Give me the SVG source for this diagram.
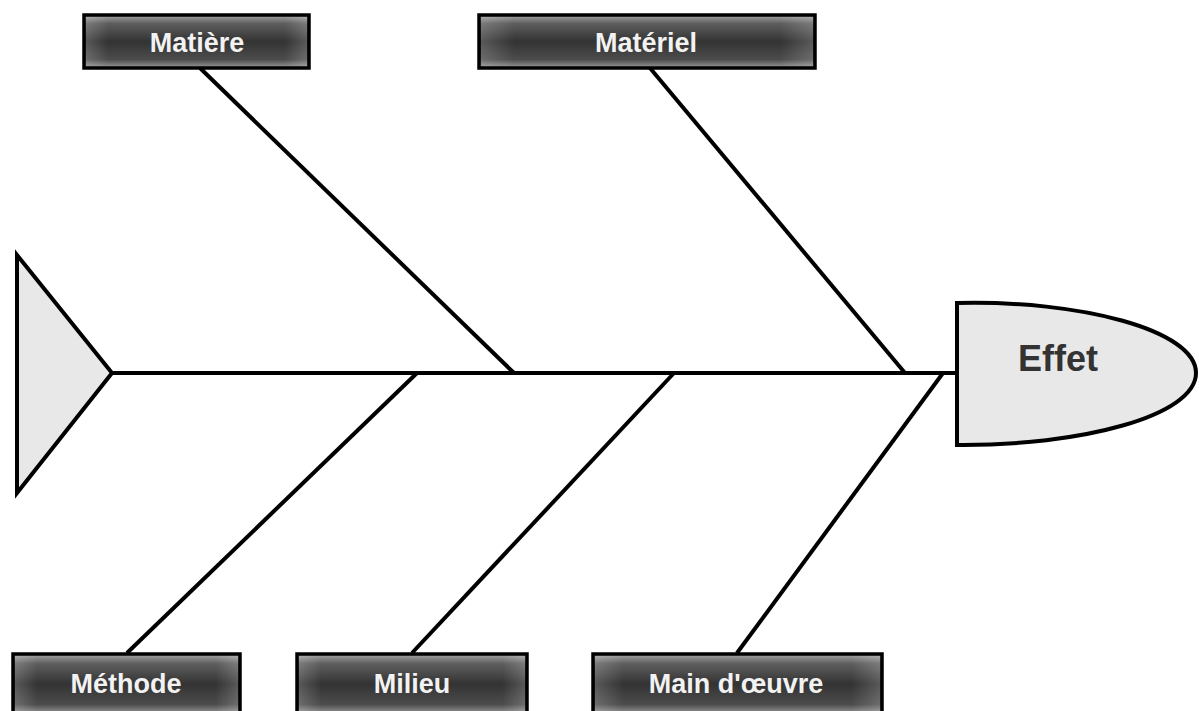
<svg xmlns="http://www.w3.org/2000/svg" width="1199" height="711" viewBox="0 0 1199 711">
<defs>
<linearGradient id="gv" x1="0" y1="0" x2="0" y2="1">
<stop offset="0" stop-color="#a8a8a8"/>
<stop offset="0.16" stop-color="#5e5e5e"/>
<stop offset="0.5" stop-color="#333333"/>
<stop offset="0.84" stop-color="#4c4c4c"/>
<stop offset="1" stop-color="#9a9a9a"/>
</linearGradient>
<linearGradient id="gh" x1="0" y1="0" x2="1" y2="0">
<stop offset="0" stop-color="#ffffff" stop-opacity="0.18"/>
<stop offset="0.1" stop-color="#ffffff" stop-opacity="0"/>
<stop offset="0.9" stop-color="#ffffff" stop-opacity="0"/>
<stop offset="1" stop-color="#ffffff" stop-opacity="0.18"/>
</linearGradient>
</defs>
<style>
.ln{stroke:#000;stroke-width:4;fill:none;stroke-linecap:butt}
.box{fill:url(#gv);stroke:#000;stroke-width:3.5}
.gl{fill:url(#gh);stroke:none}
.lb{font-family:"Liberation Sans",Arial,sans-serif;font-weight:bold;font-size:27px;fill:#f2f2f2;text-anchor:middle}
.shape{fill:#e8e8e8;stroke:#000;stroke-width:4;stroke-linejoin:miter}
</style>
<rect width="1199" height="711" fill="#fff"/>
<g id="connectors">
<line class="ln" x1="113" y1="373" x2="957" y2="373"/>
<line class="ln" x1="200" y1="68" x2="514" y2="373"/>
<line class="ln" x1="650" y1="68" x2="905" y2="373"/>
<line class="ln" x1="127" y1="653" x2="417" y2="373"/>
<line class="ln" x1="412" y1="653" x2="674" y2="373"/>
<line class="ln" x1="737" y1="653" x2="943" y2="373"/>
</g>
<g id="head">
<polygon class="shape" points="17,255 112,373 17,493"/>
</g>
<g id="effet">
<path class="shape" d="M957,303 C1080,300 1196,330 1196,373 C1196,416 1080,446 957,445 Z"/>
<text x="1058" y="371" style="font-family:'Liberation Sans',Arial,sans-serif;font-weight:bold;font-size:36px;fill:#333" text-anchor="middle">Effet</text>
</g>
<g id="matiere">
<rect class="box" x="84" y="15" width="225" height="53"/>
<rect class="gl" x="86" y="17" width="221" height="49"/>
<text class="lb" x="197" y="52">Matière</text>
</g>
<g id="materiel">
<rect class="box" x="479" y="15" width="336" height="53"/>
<rect class="gl" x="481" y="17" width="332" height="49"/>
<text class="lb" x="646" y="52">Matériel</text>
</g>
<g id="methode">
<rect class="box" x="13" y="654" width="227" height="60"/>
<rect class="gl" x="15" y="656" width="223" height="56"/>
<text class="lb" x="126" y="693">Méthode</text>
</g>
<g id="milieu">
<rect class="box" x="297" y="654" width="230" height="60"/>
<rect class="gl" x="299" y="656" width="226" height="56"/>
<text class="lb" x="412" y="693">Milieu</text>
</g>
<g id="main-oeuvre">
<rect class="box" x="593" y="654" width="289" height="60"/>
<rect class="gl" x="595" y="656" width="285" height="56"/>
<text class="lb" x="736" y="693">Main d'œuvre</text>
</g>
</svg>
